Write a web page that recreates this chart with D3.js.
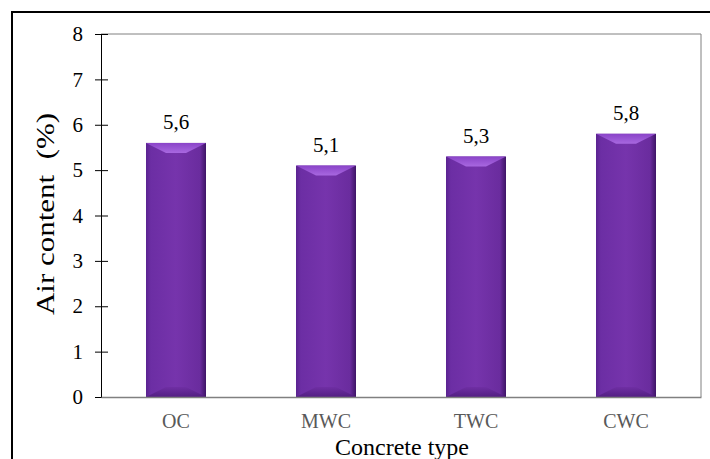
<!DOCTYPE html>
<html>
<head>
<meta charset="utf-8">
<script src="https://cdn.jsdelivr.net/npm/d3@7"></script>
<style>
    html, body { margin: 0; padding: 0; background: #fff; }
    svg { display: block; font-family: "Liberation Serif", "Times New Roman", serif; }
</style>
</head>
<body>
<div id="chart"></div>
<script>
// Air content by concrete type - bevelled purple bars, Excel style.
const categories = ['OC', 'MWC', 'TWC', 'CWC'];
const airContent = [5.6, 5.1, 5.3, 5.8];
const valueLabels = ['5,6', '5,1', '5,3', '5,8'];
const yTicks = [0, 1, 2, 3, 4, 5, 6, 7, 8];

const width = 710, height = 459;
const plot = { left: 101, right: 701, top: 34, bottom: 397 };
const serif = '"Liberation Serif", "Times New Roman", serif';

const svg = d3.select('#chart').append('svg')
    .attr('width', width)
    .attr('height', height);

const defs = svg.append('defs');

// horizontal body gradient: darker edges, lighter middle
const bodyGrad = defs.append('linearGradient').attr('id', 'body-grad')
    .attr('x1', 0).attr('x2', 1).attr('y1', 0).attr('y2', 0);
[[0, '#5a2290'], [0.08, '#6c2ea4'], [0.5, '#7634ac'], [0.9, '#6a2c9e'], [1, '#3e1466']]
    .forEach(([o, c]) => bodyGrad.append('stop').attr('offset', o).attr('stop-color', c));

const topGrad = defs.append('linearGradient').attr('id', 'top-grad')
    .attr('x1', 0).attr('x2', 0).attr('y1', 0).attr('y2', 1);
[[0, '#8a44c8'], [1, '#a868e0']]
    .forEach(([o, c]) => topGrad.append('stop').attr('offset', o).attr('stop-color', c));

const botGrad = defs.append('linearGradient').attr('id', 'bot-grad')
    .attr('x1', 0).attr('x2', 0).attr('y1', 0).attr('y2', 1);
[[0, '#6e2ea2'], [1, '#4c1a7a']]
    .forEach(([o, c]) => botGrad.append('stop').attr('offset', o).attr('stop-color', c));

const x = d3.scaleBand()
    .domain(categories)
    .range([plot.left, plot.right])
    .paddingInner(0.6)
    .paddingOuter(0.3);

const y = d3.scaleLinear()
    .domain([0, 8])
    .range([plot.bottom, plot.top]);

// outer frame
svg.append('rect')
    .attr('x', 12).attr('y', 12)
    .attr('width', 700).attr('height', 460)
    .attr('fill', 'none')
    .attr('stroke', '#000')
    .attr('stroke-width', 2);

// plot area frame (top + right)
svg.append('path')
    .attr('d', `M${plot.left},${plot.top}H${plot.right}V${plot.bottom}`)
    .attr('fill', 'none')
    .attr('stroke', '#808080')
    .attr('stroke-width', 1);

// bars
const bevel = 10;
const barG = svg.append('g').selectAll('g')
    .data(categories.map((c, i) => ({ cat: c, v: airContent[i], label: valueLabels[i] })))
    .join('g');

barG.append('rect')
    .attr('x', d => x(d.cat))
    .attr('y', d => y(d.v))
    .attr('width', x.bandwidth())
    .attr('height', d => y(0) - y(d.v))
    .attr('fill', 'url(#body-grad)');

barG.append('path')
    .attr('d', d => {
        const x0 = x(d.cat), x1 = x0 + x.bandwidth(), t = y(d.v);
        return `M${x0},${t}H${x1}L${x1 - 2 * bevel},${t + bevel}H${x0 + 2 * bevel}Z`;
    })
    .attr('fill', 'url(#top-grad)');

barG.append('path')
    .attr('d', d => {
        const x0 = x(d.cat), x1 = x0 + x.bandwidth(), b = y(0);
        return `M${x0},${b}H${x1}L${x1 - 2 * bevel},${b - bevel}H${x0 + 2 * bevel}Z`;
    })
    .attr('fill', 'url(#bot-grad)')
    .attr('opacity', 0.8);

barG.append('text')
    .attr('x', d => x(d.cat) + x.bandwidth() / 2)
    .attr('y', d => y(d.v) - 14)
    .attr('text-anchor', 'middle')
    .attr('font-family', serif)
    .attr('font-size', 21)
    .attr('fill', '#000')
    .text(d => d.label);

// y axis
const yAxis = svg.append('g')
    .attr('transform', `translate(${plot.left},0)`)
    .call(d3.axisLeft(y).tickValues(yTicks).tickSizeInner(6).tickSizeOuter(0).tickPadding(12));
yAxis.select('.domain').attr('stroke', '#000');
yAxis.selectAll('.tick line').attr('x2', 7).attr('x1', -6).attr('stroke', '#000');
yAxis.selectAll('.tick text')
    .attr('font-family', serif)
    .attr('font-size', 21)
    .attr('fill', '#000');

// x axis
const xAxis = svg.append('g')
    .attr('transform', `translate(0,${plot.bottom})`)
    .call(d3.axisBottom(x).tickSize(0).tickPadding(0));
xAxis.select('.domain').attr('stroke', '#808080').attr('stroke-width', 1.5);
xAxis.selectAll('.tick text')
    .attr('font-family', serif)
    .attr('font-size', 20)
    .attr('fill', '#595959')
    .attr('dy', null)
    .attr('y', 31);

// axis titles
svg.append('text')
    .attr('x', (plot.left + plot.right) / 2 + 1)
    .attr('y', 455)
    .attr('text-anchor', 'middle')
    .attr('font-size', 24)
    .text('Concrete type');

// the original y title is squeezed across its height
svg.append('text')
    .attr('transform', `translate(54,214) rotate(-90) scale(1,0.82)`)
    .attr('text-anchor', 'middle')
    .attr('font-size', 31)
    .style('white-space', 'pre')
    .text('Air content  (%)');
</script>
</body>
</html>
